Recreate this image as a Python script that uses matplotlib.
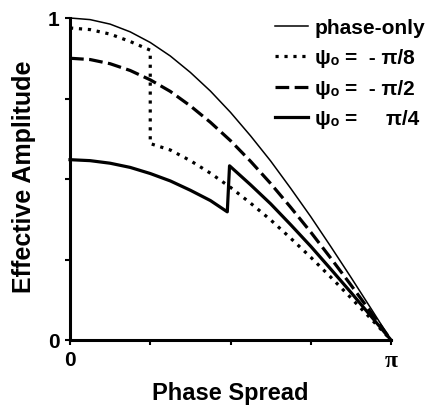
import numpy as np
import matplotlib
matplotlib.use("Agg")
import matplotlib.pyplot as plt

PI = np.pi
# x positions as fraction of pi
f_grid = [0, 0.0625, 0.125, 0.1875, 0.25, 0.3125, 0.375, 0.4375, 0.5,
          0.5625, 0.625, 0.6875, 0.75, 0.8125, 0.875, 0.9375, 1.0]

phase_only = [1.000, 0.995, 0.981, 0.957, 0.924, 0.882, 0.831, 0.773, 0.707,
              0.634, 0.556, 0.471, 0.383, 0.290, 0.195, 0.098, 0.0]

dashed_vals = [0.875, 0.871, 0.858, 0.837, 0.808, 0.772, 0.727, 0.676, 0.619,
               0.555, 0.486, 0.412, 0.335, 0.254, 0.171, 0.086, 0.0]

dot_f = [0, 0.0625, 0.125, 0.1875, 0.25, 0.25, 0.3125, 0.375, 0.4375, 0.5,
         0.5625, 0.625, 0.6875, 0.75, 0.8125, 0.875, 0.9375, 1.0]
dot_vals = [0.969, 0.964, 0.950, 0.927, 0.900, 0.610, 0.590, 0.557, 0.518, 0.474,
            0.425, 0.373, 0.316, 0.257, 0.195, 0.131, 0.066, 0.0]

thick_f = [0, 0.0625, 0.125, 0.1875, 0.25, 0.3125, 0.375, 0.4375, 0.49, 0.497,
           0.5625, 0.625, 0.6875, 0.75, 0.8125, 0.875, 0.9375, 1.0]
thick_vals = [0.560, 0.557, 0.549, 0.536, 0.517, 0.494, 0.465, 0.433, 0.398, 0.541,
              0.482, 0.423, 0.358, 0.291, 0.220, 0.148, 0.074, 0.0]

labels = ["phase-only", "ψₒ =  - π/8", "ψₒ =  - π/2", "ψₒ =     π/4"]

plt.rcParams['font.family'] = ['Liberation Sans', 'DejaVu Sans']
plt.rcParams['font.weight'] = 'bold'

fig = plt.figure(figsize=(4.32, 4.06), dpi=100)
ax = fig.add_axes([70/432, 1-341/406, 321/432, 322/406])

x_po = np.array(f_grid) * PI
ax.plot(x_po, phase_only, color='black', lw=1.1, label=labels[0], clip_on=False)
ax.plot(np.array(dot_f) * PI, dot_vals, color='black', lw=2.3,
        linestyle=(0, (1, 1.8)), label=labels[1], clip_on=False)
ax.plot(x_po, dashed_vals, color='black', lw=2.3,
        linestyle=(0, (4.3, 1.7)), label=labels[2], clip_on=False)
ax.plot(np.array(thick_f) * PI, thick_vals, color='black', lw=2.3,
        label=labels[3], clip_on=False)

ax.set_xlim(0, PI)
ax.set_ylim(0, 1)
for s in ['top', 'right']:
    ax.spines[s].set_visible(False)
for s in ['left', 'bottom']:
    ax.spines[s].set_linewidth(2.2)

ax.set_xticks([0, PI/4, PI/2, 3*PI/4, PI])
ax.set_xticklabels(['0', '', '', '', 'π'])
ax.set_yticks([0, 0.25, 0.5, 0.75, 1])
ax.set_yticklabels(['0', '', '', '', '1'])
ax.tick_params(direction='out', length=3.5, width=1.5, labelsize=15, pad=4)
for lab in ax.get_xticklabels():
    if lab.get_text() == 'π':
        lab.set_family('Liberation Serif')
        lab.set_fontsize(17)

ax.set_xlabel('Phase Spread', fontsize=17, fontweight='bold', labelpad=7)
ax.set_ylabel('Effective Amplitude', fontsize=18, fontweight='bold', labelpad=5)
ax.yaxis.set_label_coords(-0.105, 0.509)

leg = ax.legend(loc='upper left', bbox_to_anchor=(275/432, 1-19/406),
                bbox_transform=fig.transFigure, frameon=False, fontsize=15,
                handlelength=1.6, handletextpad=0.3, labelspacing=0.55,
                borderpad=0, borderaxespad=0)

fig.savefig('out.png', dpi=100)
